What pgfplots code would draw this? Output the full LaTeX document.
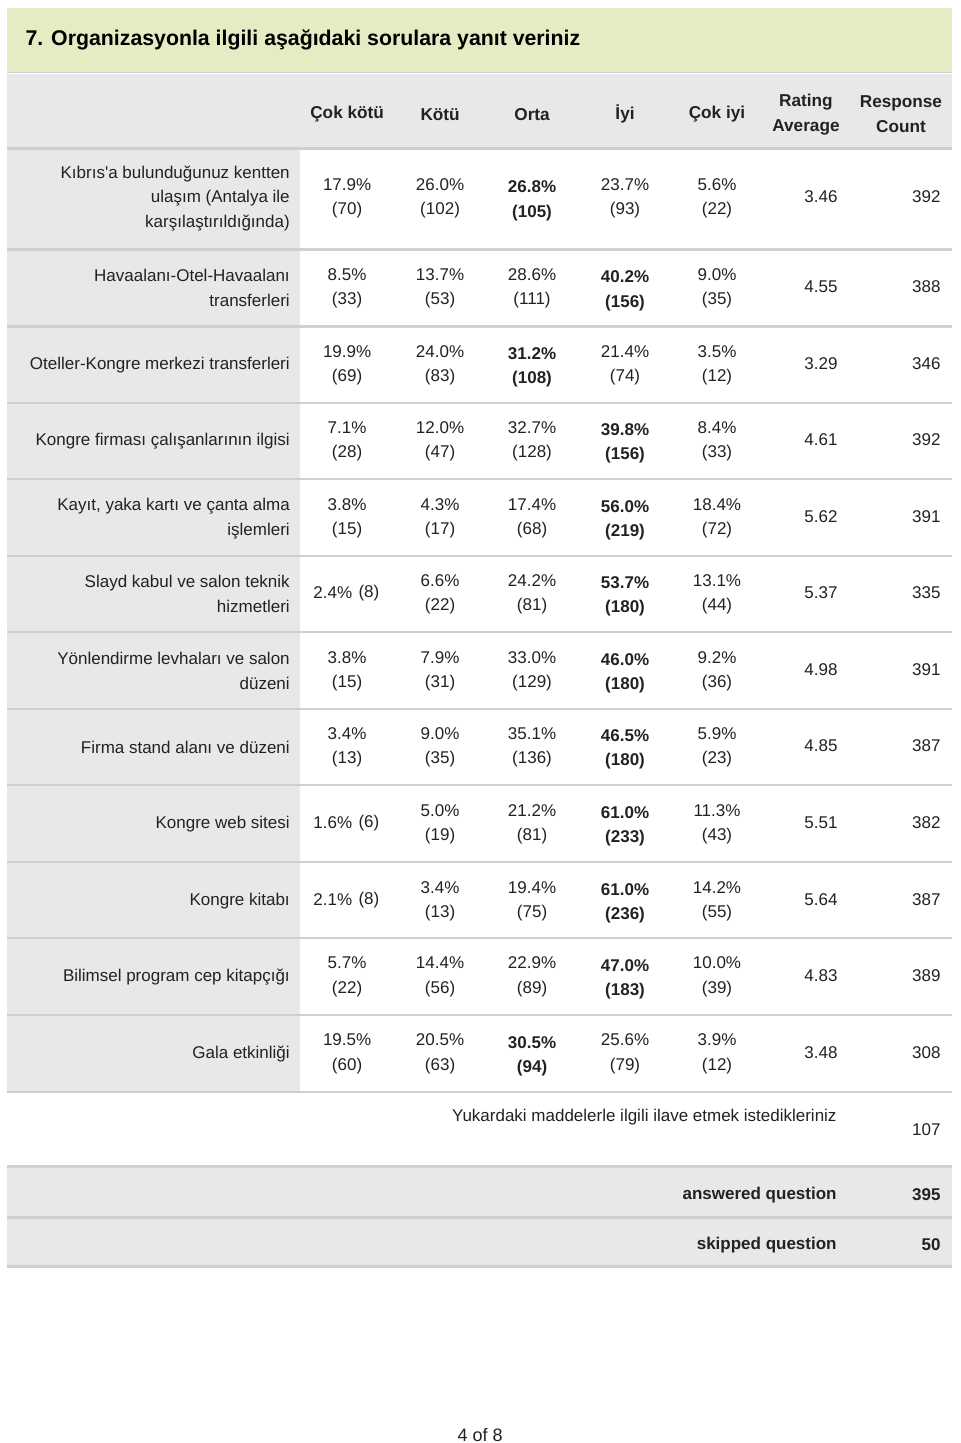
\documentclass[border=0pt]{standalone}
\usepackage{fontspec}
\setmainfont{Liberation Sans}
\usepackage{pgfplots}
\usepackage{pgfplotstable}
\pgfplotsset{compat=1.18}
\definecolor{titlebg}{HTML}{E6EBC3}
\definecolor{cellbg}{HTML}{E8E8E8}
\definecolor{sepc}{HTML}{CFCFCF}
\definecolor{txt}{HTML}{222222}

\pgfplotstableread{
x y pct cnt
347 197.5 17.9 70
440 197.5 26.0 102
625 197.5 23.7 93
717 197.5 5.6 22
347 287 8.5 33
440 287 13.7 53
532 287 28.6 111
717 287 9.0 35
347 364 19.9 69
440 364 24.0 83
625 364 21.4 74
717 364 3.5 12
347 440 7.1 28
440 440 12.0 47
532 440 32.7 128
717 440 8.4 33
347 517 3.8 15
440 517 4.3 17
532 517 17.4 68
717 517 18.4 72
440 593 6.6 22
532 593 24.2 81
717 593 13.1 44
347 670 3.8 15
440 670 7.9 31
532 670 33.0 129
717 670 9.2 36
347 746 3.4 13
440 746 9.0 35
532 746 35.1 136
717 746 5.9 23
440 823 5.0 19
532 823 21.2 81
717 823 11.3 43
440 900 3.4 13
532 900 19.4 75
717 900 14.2 55
347 976 5.7 22
440 976 14.4 56
532 976 22.9 89
717 976 10.0 39
347 1053 19.5 60
440 1053 20.5 63
625 1053 25.6 79
717 1053 3.9 12
}\normalcells

\pgfplotstableread{
x y pct cnt
532 200 26.8 105
625 289.5 40.2 156
532 366.5 31.2 108
625 442.5 39.8 156
625 519.5 56.0 219
625 595.5 53.7 180
625 672.5 46.0 180
625 748.5 46.5 180
625 825.5 61.0 233
625 902.5 61.0 236
625 978.5 47.0 183
532 1055.5 30.5 94
}\boldcells

\pgfplotstableread{
x y pct cnt
347 593 2.4 8
347 823 1.6 6
347 900 2.1 8
}\singlecells

\pgfplotstableread{
y avg cnt
197 3.46 392
287 4.55 388
364 3.29 346
440 4.61 392
517 5.62 391
593 5.37 335
670 4.98 391
746 4.85 387
823 5.51 382
900 5.64 387
976 4.83 389
1053 3.48 308
}\summary

\pgfplotstableread{
x y val
941 1195 395
941 1245 50
}\totals

\pgfplotstableread{
x y val
941 1130 107
}\comments

\begin{document}
\begin{tikzpicture}
\begin{axis}[
  scale only axis, width=480pt, height=721.5pt,
  xmin=0, xmax=960, ymin=0, ymax=1443, y dir=reverse,
  axis line style={draw=none}, major tick length=0pt,
  clip=false, axis on top,
  /pgf/number format/assume math mode=true,
  xticklabel pos=upper,
  xtick={347,440,532,625,717,806,901},
  xticklabels={Çok kötü,Kötü,Orta,İyi,Çok iyi,{Rating\\Average},{Response\\Count}},
  xticklabel style={anchor=center, yshift=-57pt, align=center, inner sep=0pt,
    font=\fontsize{8.6}{12.5}\selectfont\bfseries, text=txt},
  ytick={197,287,364,440,517,593,670,746,823,900,976,1053},
  yticklabels={{Kıbrıs\textquotesingle a bulunduğunuz kentten\\ulaşım (Antalya ile\\karşılaştırıldığında)},
    {Havaalanı-Otel-Havaalanı\\transferleri},
    {Oteller-Kongre merkezi transferleri},
    {Kongre firması çalışanlarının ilgisi},
    {Kayıt, yaka kartı ve çanta alma\\işlemleri},
    {Slayd kabul ve salon teknik\\hizmetleri},
    {Yönlendirme levhaları ve salon\\düzeni},
    {Firma stand alanı ve düzeni},
    {Kongre web sitesi},
    {Kongre kitabı},
    {Bilimsel program cep kitapçığı},
    {Gala etkinliği}},
  yticklabel style={anchor=east, xshift=145pt, yshift=-0.6pt, align=right, inner sep=0pt,
    font=\fontsize{8.5}{12.4}\selectfont, text=txt},
  nodes near coords align={center},
  every node near coord/.append style={inner sep=0pt, text=txt,
    font=\fontsize{8.5}{10}\selectfont},
  pctlabel/.style={point meta=explicit,
    nodes near coords={\pgfmathprintnumber[fixed,fixed zerofill,precision=1]{\pgfplotspointmeta}\%}},
  cntlabel/.style={point meta=explicit,
    nodes near coords={(\pgfmathprintnumber{\pgfplotspointmeta})}},
]
% table decoration
\fill[white] (0,0) rectangle (960,1443);
\fill[titlebg] (7,8) rectangle (952,72);
\draw[sepc, line width=0.8pt] (7,72.5) -- (952,72.5);
\fill[cellbg] (7,74) rectangle (952,147);
\fill[cellbg] (7,149) rectangle (300,1092);
\fill[cellbg] (7,1168) rectangle (952,1267);
\pgfplotsinvokeforeach{148,249,326,403,479,556,632,709,785,862,938,1015,1092,1167,1218,1267}{
  \draw[sepc, line width=1.4pt] (7,#1) -- (952,#1);
}
\node[anchor=west, inner sep=0pt, font=\fontsize{10.65}{12}\selectfont\bfseries] at (25,40)
  {7. Organizasyonla ilgili aşağıdaki sorulara yanıt veriniz};

% cells: percentages (upper line) and counts (lower line)
\addplot[draw=none, mark=none, pctlabel,
  every node near coord/.append style={yshift=6.4pt}]
  table[x=x, y=y, meta=pct] {\normalcells};
\addplot[draw=none, mark=none, cntlabel,
  every node near coord/.append style={yshift=-6.4pt}]
  table[x=x, y=y, meta=cnt] {\normalcells};
\addplot[draw=none, mark=none, pctlabel,
  every node near coord/.append style={yshift=6.5pt, font=\fontsize{8.5}{10}\selectfont\bfseries}]
  table[x=x, y=y, meta=pct] {\boldcells};
\addplot[draw=none, mark=none, cntlabel,
  every node near coord/.append style={yshift=-6.5pt, font=\fontsize{8.5}{10}\selectfont\bfseries}]
  table[x=x, y=y, meta=cnt] {\boldcells};
% single-line cells: "p% (n)"
\addplot[draw=none, mark=none, pctlabel, nodes near coords align={east}]
  table[x expr=\thisrow{x}+5.5, y=y, meta=pct] {\singlecells};
\addplot[draw=none, mark=none, cntlabel, nodes near coords align={west}]
  table[x expr=\thisrow{x}+11, y=y, meta=cnt] {\singlecells};
% rating average and response count
\addplot[draw=none, mark=none, point meta=explicit,
  nodes near coords={\pgfmathprintnumber[fixed,fixed zerofill,precision=2]{\pgfplotspointmeta}}]
  table[x expr=821, y=y, meta=avg] {\summary};
\addplot[draw=none, mark=none, point meta=explicit,
  nodes near coords align={east},
  nodes near coords={\pgfmathprintnumber{\pgfplotspointmeta}}]
  table[x expr=941, y=y, meta=cnt] {\summary};

% bottom block
\node[anchor=east, inner sep=0pt, text=txt, font=\fontsize{8.5}{10}\selectfont] at (837,1117)
  {Yukardaki maddelerle ilgili ilave etmek istedikleriniz};
\node[anchor=east, inner sep=0pt, text=txt, font=\fontsize{8.5}{10}\selectfont\bfseries] at (837,1195)
  {answered question};
\node[anchor=east, inner sep=0pt, text=txt, font=\fontsize{8.5}{10}\selectfont\bfseries] at (837,1245)
  {skipped question};
\addplot[draw=none, mark=none, point meta=explicit,
  nodes near coords align={east},
  nodes near coords={\pgfmathprintnumber{\pgfplotspointmeta}}]
  table[x=x, y=y, meta=val] {\comments};
\addplot[draw=none, mark=none, point meta=explicit,
  nodes near coords align={east},
  every node near coord/.append style={font=\fontsize{8.5}{10}\selectfont\bfseries},
  nodes near coords={\pgfmathprintnumber{\pgfplotspointmeta}}]
  table[x=x, y=y, meta=val] {\totals};
\node[inner sep=0pt, text=txt, font=\fontsize{9}{10}\selectfont] at (480,1435) {4 of 8};
\end{axis}
\end{tikzpicture}
\end{document}
